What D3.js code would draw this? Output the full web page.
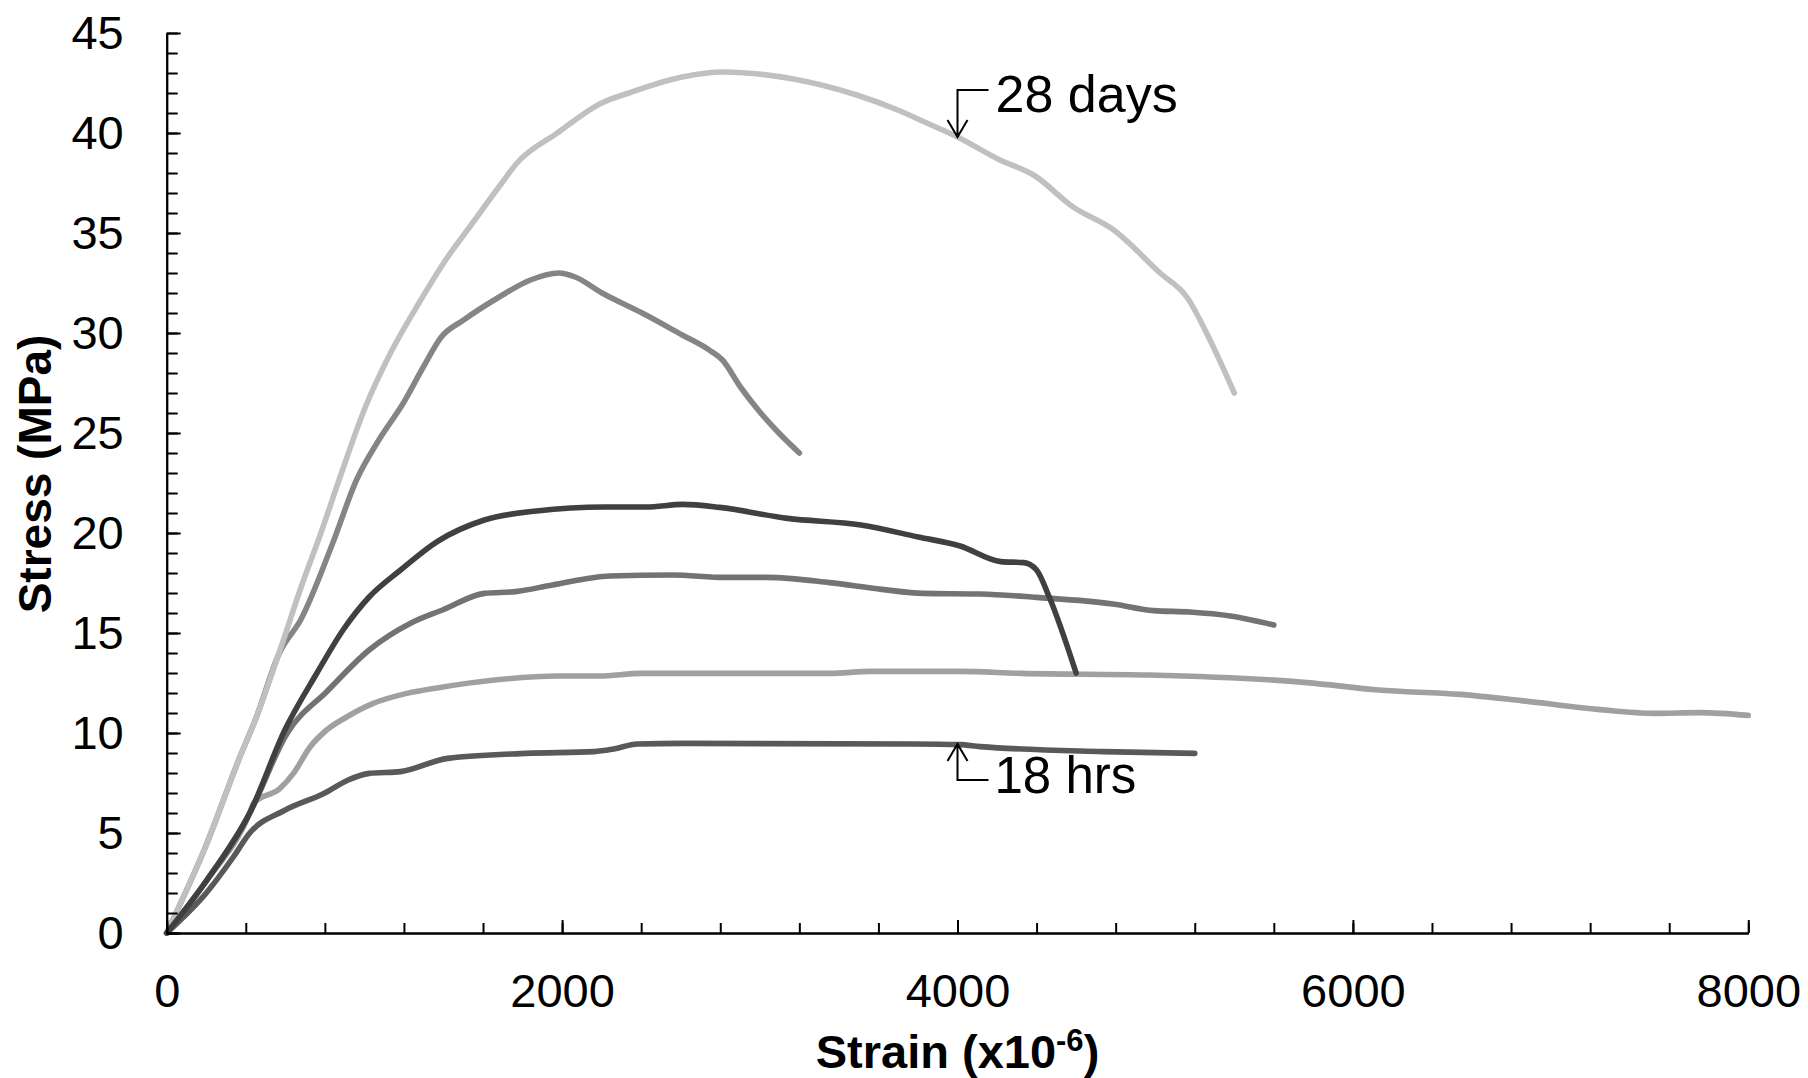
<!DOCTYPE html>
<html>
<head>
<meta charset="utf-8">
<script src="https://cdn.jsdelivr.net/npm/d3@7"></script>
<style>
  html, body { margin: 0; padding: 0; background: #fff; }
  svg { display: block; }
  text { font-family: "Liberation Sans", Arial, sans-serif; fill: #000; }
</style>
</head>
<body>
<svg id="chart" width="1808" height="1078"></svg>
<script>
// ---- Data (strain x10^-6, stress MPa) ----
const xTickValues = [0, 2000, 4000, 6000, 8000];
const yTickValues = [0, 5, 10, 15, 20, 25, 30, 35, 40, 45];

const curve28days = [[0,0],[200,4.4],[370,8.8],[450,10.7],[575,14.2],[680,17.3],[780,20.0],[870,22.6],[1005,26.3],[1140,29.15],[1276,31.5],[1411,33.65],[1547,35.5],[1680,37.3],[1772,38.5],[1976,40.0],[2200,41.5],[2337,42.0],[2608,42.8],[2810,43.05],[3170,42.7],[3490,41.9],[3710,41.1],[3845,40.5],[4000,39.8],[4215,38.65],[4385,37.9],[4585,36.3],[4790,35.15],[5025,33.0],[5160,31.8],[5277,29.65],[5400,27.0]];
const curvePeak33 = [[0,0],[200,4.4],[370,8.8],[450,10.7],[570,14.0],[680,15.7],[840,19.5],[960,22.65],[1073,24.65],[1197,26.5],[1298,28.3],[1389,29.8],[1502,30.65],[1682,31.8],[1840,32.65],[1983,33.0],[2066,32.8],[2202,32.0],[2405,31.0],[2608,29.9],[2744,29.15],[2811,28.65],[2902,27.3],[2992,26.15],[3082,25.15],[3200,24.0]];
const curvePeak21 = [[0,0],[200,2.6],[420,6.0],[600,10.2],[760,13.0],[892,15.15],[1024,16.8],[1183,18.15],[1368,19.57],[1607,20.65],[1871,21.1],[2215,21.3],[2426,21.3],[2611,21.43],[2797,21.28],[3141,20.73],[3511,20.4],[3802,19.8],[4013,19.35],[4219,18.57],[4335,18.52],[4400,18.15],[4464,16.8],[4600,13.0]];
const curvePeak18 = [[0,0],[200,2.6],[420,6.0],[610,10.0],[813,12.1],[1024,14.15],[1236,15.5],[1395,16.15],[1607,16.98],[1765,17.07],[1951,17.4],[2241,17.85],[2558,17.9],[2824,17.78],[3035,17.78],[3352,17.52],[3617,17.18],[3828,16.98],[4114,16.95],[4400,16.78],[4787,16.45],[4993,16.12],[5174,16.05],[5380,15.85],[5600,15.4]];
const curvePeak13 = [[0,0],[200,2.6],[420,6.0],[440,6.5],[573,7.23],[641,7.98],[725,9.3],[809,10.15],[910,10.8],[1045,11.48],[1214,11.98],[1382,12.28],[1659,12.65],[1977,12.85],[2188,12.85],[2400,12.98],[3352,12.98],[3564,13.08],[4013,13.08],[4322,12.98],[4968,12.9],[5767,12.52],[6129,12.15],[6542,11.93],[6851,11.62],[7239,11.18],[7522,10.98],[7755,11.02],[8000,10.88]];
const curve18hrs = [[0,0],[200,2.0],[337,3.8],[420,5.0],[590,6.1],[800,7.0],[918,7.65],[1024,7.98],[1183,8.07],[1421,8.73],[1818,8.98],[2162,9.07],[2260,9.2],[2380,9.45],[2611,9.48],[3775,9.45],[4013,9.42],[4114,9.32],[4735,9.07],[5200,8.98]];

const seriesList = [curvePeak13, curvePeak18, curve18hrs, curvePeak33, curve28days, curvePeak21];
const seriesColors = ["#a0a0a0", "#737373", "#595959", "#858585", "#c0c0c0", "#404040"];

const annotations = [
  { label: "28 days", x: 4000, y: 39.8, dir: "down" },
  { label: "18 hrs", x: 4000, y: 9.45, dir: "up" }
];

// ---- Layout ----
const svg = d3.select("#chart");
const x = d3.scaleLinear().domain([0, 8000]).range([166.7, 1748.3]);
const y = d3.scaleLinear().domain([0, 45]).range([933, 33]);

const tickFont = "47px";

// Lines
const line = d3.line().x(d => x(d[0])).y(d => y(d[1])).curve(d3.curveMonotoneX);
svg.append("g").selectAll("path").data(seriesList).join("path")
  .attr("d", line)
  .attr("fill", "none")
  .attr("stroke", (d, i) => seriesColors[i])
  .attr("stroke-width", 5.6)
  .attr("stroke-linejoin", "round")
  .attr("stroke-linecap", "round");

// Minor ticks
const yMinor = svg.append("g").attr("transform", `translate(${x(0)},0)`)
  .call(d3.axisLeft(y).tickValues(d3.range(0, 46, 1)).tickSizeInner(-11).tickSizeOuter(0).tickFormat(""));
const xMinor = svg.append("g").attr("transform", `translate(0,${y(0)})`)
  .call(d3.axisBottom(x).tickValues(d3.range(0, 8001, 400)).tickSizeInner(-10).tickSizeOuter(0).tickFormat(""));

// Major axes
const yAxis = svg.append("g").attr("transform", `translate(${x(0)},0)`)
  .call(d3.axisLeft(y).tickValues(yTickValues).tickSizeInner(-14).tickSizeOuter(0).tickPadding(43));
const xAxis = svg.append("g").attr("transform", `translate(0,${y(0)})`)
  .call(d3.axisBottom(x).tickValues(xTickValues).tickSizeInner(-13).tickSizeOuter(0).tickPadding(41).tickFormat(d3.format("d")));

[yMinor, xMinor, yAxis, xAxis].forEach(g => {
  g.selectAll("path.domain").attr("stroke", "#000").attr("stroke-width", 2);
  g.selectAll(".tick line").attr("stroke", "#000").attr("stroke-width", 2);
  g.selectAll("text").attr("font-family", "Liberation Sans, Arial, sans-serif")
    .attr("font-size", tickFont).attr("fill", "#000");
});
yAxis.selectAll("text").attr("dy", "0.34em");

// Axis titles
const xTitle = svg.append("text")
  .attr("x", (x(0) + x(8000)) / 2).attr("y", 1068)
  .attr("text-anchor", "middle")
  .attr("font-weight", "bold").attr("font-size", "47px");
xTitle.append("tspan").text("Strain (x10");
xTitle.append("tspan").attr("font-size", "31px").attr("dy", -17).text("-6");
xTitle.append("tspan").attr("dy", 17).text(")");

svg.append("text")
  .attr("transform", "translate(51,474) rotate(-90)")
  .attr("text-anchor", "middle")
  .attr("font-weight", "bold").attr("font-size", "46px")
  .text("Stress (MPa)");

// Annotations
const ann = svg.append("g");
annotations.forEach(a => {
  const tx = x(a.x), ty = y(a.y);
  if (a.dir === "down") {
    const elbowY = ty - 47;
    ann.append("path")
      .attr("d", `M${tx + 31},${elbowY}H${tx}V${ty}M${tx - 10},${ty - 17}L${tx},${ty}L${tx + 10},${ty - 17}`)
      .attr("fill", "none").attr("stroke", "#000").attr("stroke-width", 2);
    ann.append("text").attr("x", tx + 38).attr("y", elbowY + 22)
      .attr("font-size", "52px").text(a.label);
  } else {
    const elbowY = ty + 36;
    ann.append("path")
      .attr("d", `M${tx + 31},${elbowY}H${tx}V${ty}M${tx - 10},${ty + 17}L${tx},${ty}L${tx + 10},${ty + 17}`)
      .attr("fill", "none").attr("stroke", "#000").attr("stroke-width", 2);
    ann.append("text").attr("x", tx + 37).attr("y", elbowY + 13)
      .attr("font-size", "51px").text(a.label);
  }
});
</script>
</body>
</html>
